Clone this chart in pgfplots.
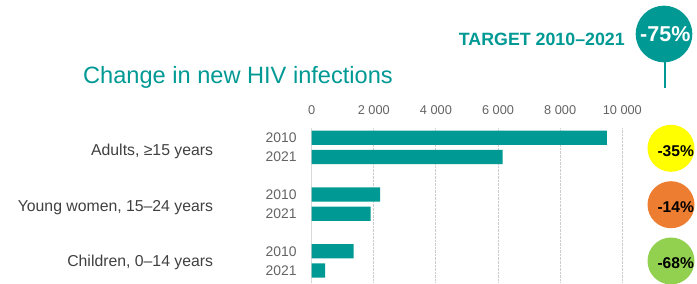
\documentclass[border=0pt]{standalone}
\usepackage{fontspec}
\setmainfont{Liberation Sans}
\usepackage{pgfplots}
\pgfplotsset{compat=1.18}
\definecolor{teal}{RGB}{0,153,148}
\definecolor{ylw}{RGB}{255,255,0}
\definecolor{org}{RGB}{237,125,49}
\definecolor{grn}{RGB}{146,208,80}
\definecolor{tick}{RGB}{100,100,100}
\definecolor{cat}{RGB}{64,64,64}
\newcommand{\fs}[1]{\fontsize{#1bp}{#1bp}\selectfont}
\begin{document}
\begin{tikzpicture}
\begin{axis}[
  at={(311.7bp,-128.2bp)}, anchor=north west,
  scale only axis, width=310.6bp, height=153.8bp,
  xmin=0, xmax=10000, ymin=-0.5, ymax=7.5, y dir=reverse,
  xbar, bar width=14.3bp,
  axis x line*=top, axis y line*=left,
  x axis line style={draw=none},
  y axis line style={draw=gray!30, line width=1.5bp},
  major tick length=0pt,
  scaled x ticks=false,
  xtick={0,2000,4000,6000,8000,10000},
  xticklabels={0,2 000,4 000,6 000,8 000,10 000},
  xticklabel style={font=\fs{12.75}, text=tick, anchor=base, inner sep=0pt, yshift=13.7bp},
  ytick={0,1,2.95,3.95,5.9,6.9},
  yticklabels={2010,2021,2010,2021,2010,2021},
  yticklabel style={font=\fs{13.9}, text=tick, anchor=east, inner sep=0pt, xshift=-15bp},
  xmajorgrids, grid style={densely dotted, gray!40, line width=1bp},
  clip=false,
]
\addplot[fill=teal, draw=none] coordinates {(9500,0) (6150,1) (2200,2.95) (1900,3.95) (1350,5.9) (430,6.9)};
\end{axis}
% category labels
\node[anchor=base east, inner sep=0pt, text=cat, font=\fs{15.8}] at (213.3bp,-155bp) {Adults, ≥15 years};
\node[anchor=base east, inner sep=0pt, text=cat, font=\fs{15.8}] at (213.3bp,-211bp) {Young women, 15–24 years};
\node[anchor=base east, inner sep=0pt, text=cat, font=\fs{15.8}] at (213.3bp,-266.7bp) {Children, 0–14 years};
% title
\node[anchor=base west, inner sep=0pt, text=teal, font=\fs{23.6}] at (83bp,-83.5bp) {Change in new HIV infections};
\node[anchor=base east, inner sep=0pt, text=teal, font=\fs{17.8}\bfseries] at (625bp,-45.5bp) {TARGET 2010–2021};
% big circle
\draw[teal, line width=1.5bp] (665bp,-60bp) -- (665bp,-88bp);
\fill[teal] (664bp,-34bp) circle (28.3bp);
\node[text=white, font=\fs{21.5}\bfseries, inner sep=0pt] at (665.3bp,-34.2bp) {-75\%};
% small circles
\fill[ylw] (671bp,-148.3bp) circle (23.5bp);
\fill[org] (671bp,-204.7bp) circle (23.5bp);
\fill[grn] (671bp,-261bp) circle (23.5bp);
\node[text=black, font=\fs{15.6}\bfseries, inner sep=0pt] at (675.7bp,-150.7bp) {-35\%};
\node[text=black, font=\fs{15.6}\bfseries, inner sep=0pt] at (675.7bp,-207bp) {-14\%};
\node[text=black, font=\fs{15.6}\bfseries, inner sep=0pt] at (675.7bp,-263.3bp) {-68\%};
\pgfresetboundingbox
\useasboundingbox (0,0) rectangle (697bp,-284bp);
\end{tikzpicture}
\end{document}
